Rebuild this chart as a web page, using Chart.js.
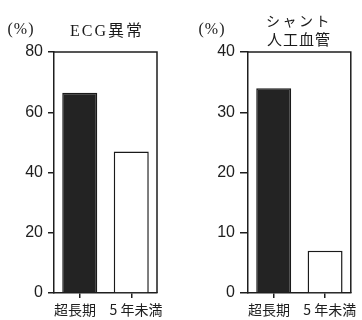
<!DOCTYPE html>
<html>
<head>
<meta charset="utf-8">
<script src="https://cdn.jsdelivr.net/npm/chart.js@4.4.0/dist/chart.umd.min.js"></script>
<style>
  body { margin: 0; background: #fff; }
  #wrap { position: relative; width: 362px; height: 320px; overflow: hidden; }
  .cv { position: absolute; top: 0; }
  .txt { position: absolute; transform: translate(-50%, -50%); white-space: nowrap; color: #1a1a1a;
         font-family: "Liberation Serif", "Noto Sans CJK JP", serif; }
</style>
</head>
<body>
<div id="wrap">
  <div class="cv" style="left:0;width:181px;height:320px"><canvas id="chart-1"></canvas></div>
  <div class="cv" style="left:181px;width:181px;height:320px"><canvas id="chart-2"></canvas></div>
  <div class="txt" style="left:21px;top:29px;font-size:16px;letter-spacing:1px">(%)</div>
  <div class="txt" style="left:107px;top:29px;font-size:16px;letter-spacing:2px">ECG異常</div>
  <div class="txt" style="left:212px;top:29px;font-size:16px;letter-spacing:1px">(%)</div>
  <div class="txt" style="left:299px;top:20px;font-size:14px;letter-spacing:2.5px;font-family:'Noto Sans CJK JP'">シャント</div>
  <div class="txt" style="left:299px;top:38px;font-size:15px;letter-spacing:1px;font-family:'Noto Sans CJK JP'">人工血管</div>
</div>
<script>
var categories = ["超長期", "5 年未満"];
var ecg_values = [66.5, 47];
var shunt_values = [34, 7];
var ecg_ticks = [0, 20, 40, 60, 80];
var shunt_ticks = [0, 10, 20, 30, 40];

var ink = "#1e1e1e";

// top + right side of the box
var boxPlugin = {
  id: "box",
  afterDraw: function (chart) {
    var a = chart.chartArea;
    var ctx = chart.ctx;
    ctx.save();
    ctx.strokeStyle = ink;
    ctx.lineWidth = 1.5;
    ctx.beginPath();
    ctx.moveTo(a.left, a.top);
    ctx.lineTo(a.right, a.top);
    ctx.lineTo(a.right, a.bottom);
    ctx.stroke();
    ctx.restore();
  },
};

function makeChart(id, values, ticks, yWidth, padRight, yTickLen) {
  var ctx = document.getElementById(id).getContext("2d");
  return new Chart(ctx, {
    type: "bar",
    data: {
      labels: categories,
      datasets: [
        {
          data: values,
          backgroundColor: ["#232323", "#ffffff"],
          borderColor: "#1a1a1a",
          borderWidth: 1.5,
          categoryPercentage: 1,
          barPercentage: 0.68,
        },
      ],
    },
    options: {
      responsive: true,
      maintainAspectRatio: false,
      animation: false,
      layout: { padding: { top: 52, right: padRight, left: 0, bottom: 0 } },
      plugins: { legend: { display: false }, tooltip: { enabled: false } },
      scales: {
        x: {
          grid: { offset: false, drawOnChartArea: false, tickLength: 5, color: ink, lineWidth: 1.5 },
          border: { display: true, color: ink, width: 1.5 },
          ticks: {
            color: ink,
            padding: 3,
            autoSkip: false,
            maxRotation: 0,
            minRotation: 0,
            font: { family: "Noto Sans CJK JP", size: 14 },
            callback: function (v, i) {
              return i == 0 ? categories[i] + "   " : "   " + categories[i];
            },
          },
          afterFit: function (s) { s.height = 27; },
        },
        y: {
          min: ticks[0],
          max: ticks[ticks.length - 1],
          afterBuildTicks: function (s) {
            s.ticks = ticks.map(function (t) { return { value: t }; });
          },
          grid: { drawOnChartArea: false, tickLength: yTickLen, color: ink, lineWidth: 1.5 },
          border: { display: true, color: ink, width: 1.5 },
          ticks: {
            color: ink,
            padding: 5,
            font: { family: "Liberation Sans", size: 16 },
          },
          afterFit: function (s) { s.width = yWidth; },
        },
      },
    },
    plugins: [boxPlugin],
  });
}

makeChart("chart-1", ecg_values, ecg_ticks, 54, 24, 6);
makeChart("chart-2", shunt_values, shunt_ticks, 67, 11, 8);
</script>
</body>
</html>
